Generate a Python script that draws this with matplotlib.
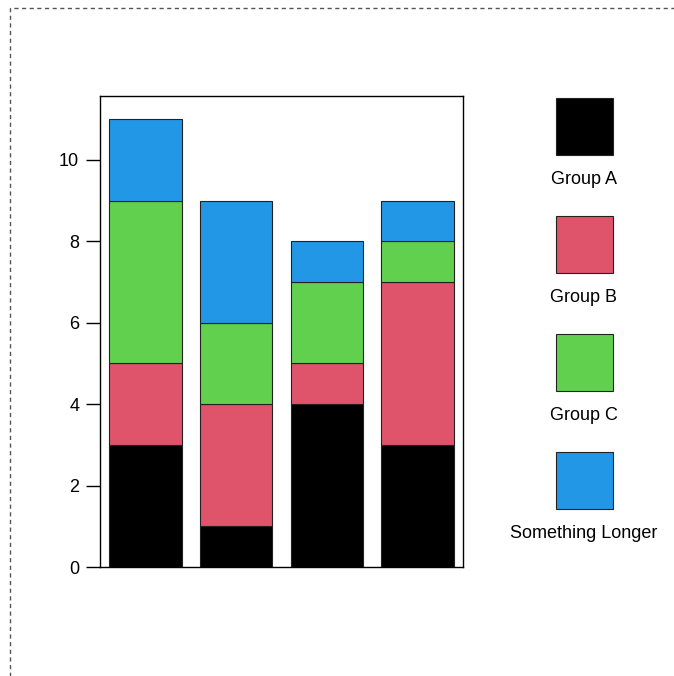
import numpy as np
import matplotlib.pyplot as plt
from matplotlib.patches import Rectangle

plt.rcParams['font.family'] = ['Liberation Sans', 'DejaVu Sans']

groups = ["Group A", "Group B", "Group C", "Something Longer"]
colors = ["#000000", "#DF536B", "#61D04F", "#2297E6"]
# stacked values per bar, one list per group
group_a = [3, 1, 4, 3]
group_b = [2, 3, 1, 4]
group_c = [4, 2, 2, 1]
longer = [2, 3, 1, 1]
series = [group_a, group_b, group_c, longer]
yticks = [0, 2, 4, 6, 8, 10]

W, H = 674, 676
fig = plt.figure(figsize=(W / 100, H / 100), dpi=100)

# dashed outer border (right and bottom run off the image)
fig.patches.append(Rectangle((10 / W, -0.05), 1.2, (H - 8) / H + 0.05,
                             transform=fig.transFigure, fill=False,
                             edgecolor="#555555", linestyle=(0, (3, 2.5)), lw=1))

ax = fig.add_axes([100 / W, (H - 567) / H, 363 / W, 471 / H])
x = np.arange(len(group_a))
bottom = np.zeros(len(x))
for vals, col in zip(series, colors):
    ax.bar(x, vals, width=0.8, bottom=bottom, color=col, edgecolor="#222222", linewidth=0.8)
    bottom += vals

ax.set_xlim(-0.5, 3.5)
ax.set_ylim(0, 11.57)
ax.set_xticks([])
ax.set_yticks(yticks)
ax.tick_params(axis='y', length=10, width=1, labelsize=13, pad=5)
for s in ax.spines.values():
    s.set_linewidth(1)

# legend: squares with labels beneath
for i, (name, col) in enumerate(zip(groups, colors)):
    top = 98 + i * 118
    fig.patches.append(Rectangle((556 / W, (H - top - 57) / H), 57 / W, 57 / H,
                                 transform=fig.transFigure, facecolor=col,
                                 edgecolor="#222222", lw=0.8))
    fig.text(584 / W, (H - top - 82) / H, name, ha="center", va="center", fontsize=13)

fig.savefig("out.png", dpi=100)
